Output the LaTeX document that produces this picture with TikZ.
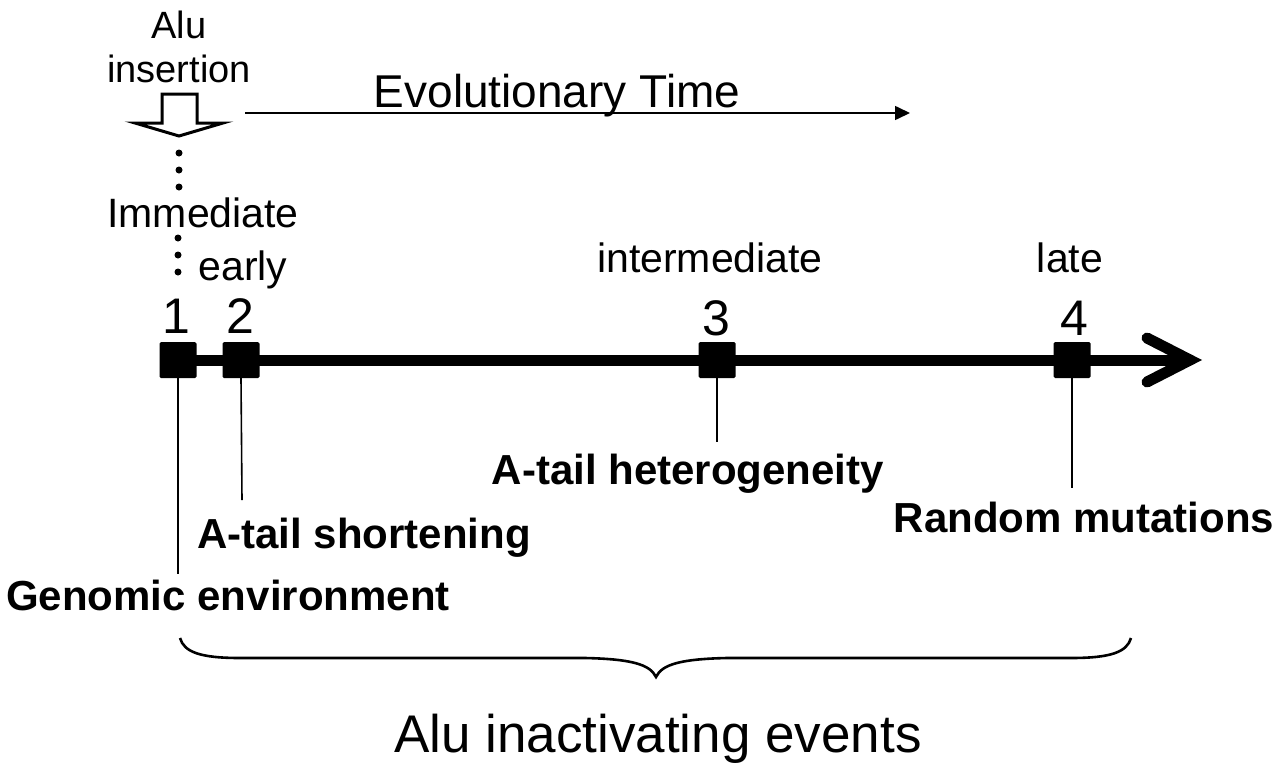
\documentclass[tikz,border=0pt]{standalone}
\usepackage{fontspec}
\setmainfont{Liberation Sans}
\usetikzlibrary{arrows.meta}
\newcommand{\fsz}[1]{\fontsize{#1}{#1}\selectfont}
\begin{document}
\begin{tikzpicture}[x=1pt,y=-1pt,
  lbl/.style={inner sep=0pt,anchor=base,font=\fsz{41}},
  num/.style={inner sep=0pt,anchor=base,font=\fsz{50}},
  evt/.style={inner sep=0pt,anchor=base,font=\fsz{42}\bfseries},
  marker/.style={fill=black,minimum width=37pt,minimum height=36pt,inner sep=0pt,rounded corners=1.5pt},
  drop/.style={line width=1.6pt},
  dots/.style={line width=7pt,line cap=round,dash pattern=on 0pt off 17pt}]
\useasboundingbox (0,0) rectangle (1280,782);
% top labels
\node[lbl,font=\fsz{38}] (alu) at (179,38) {Alu};
\node[lbl,font=\fsz{38}] (ins) at (179,82) {insertion};
% hollow insertion arrow
\draw[line width=3pt,fill=white,line join=miter] (162,94) -- (197,94) -- (197,123) -- (223,123) -- (179,136) -- (135,123) -- (162,123) -- cycle;
\coordinate (d1a) at (179,153); \coordinate (d1b) at (179,187);
\coordinate (d2a) at (178,238); \coordinate (d2b) at (178,272);
\draw[dots] (d1a) -- (d1b);
\node[lbl] (imm) at (203,227) {Immediate};
\draw[dots] (d2a) -- (d2b);
\node[lbl] (early) at (243,280) {early};
\node[lbl] (inter) at (710,272) {intermediate};
\node[lbl] (late) at (1070,272) {late};
% evolutionary time
\node[inner sep=0pt,anchor=base,font=\fsz{46}] (evo) at (557,107) {Evolutionary Time};
\coordinate (ta) at (245,113); \coordinate (tb) at (910,113);
\draw[line width=1.6pt,-{Triangle[length=15pt,width=14pt]}] (ta) -- (tb);
% axis
\coordinate (ax0) at (165,360);
\coordinate (ax1) at (1180,360);
\coordinate (tip) at (1190,360);
\coordinate (cu) at (1147,338); \coordinate (cd) at (1147,382);
\draw[line width=11pt] (ax0) -- (ax1);
\draw[line width=11pt,line cap=round,line join=miter] (cu) -- (tip) -- (cd);
% markers
\node[marker] (m1) at (178,360) {};
\node[marker] (m2) at (241,360) {};
\node[marker] (m3) at (717,360) {};
\node[marker] (m4) at (1072,360) {};
\node[num] (n1) at (176,333) {1};
\node[num] (n2) at (240,333) {2};
\node[num] (n3) at (716,335) {3};
\node[num] (n4) at (1074,335) {4};
% drop lines and events
\coordinate (e1) at (178,574);
\coordinate (e2) at (242,500);
\coordinate (e3) at (717,442);
\coordinate (e4) at (1072,488);
\draw[drop] (m1.south) -- (e1);
\draw[drop] (m2.south) -- (e2);
\draw[drop] (m3.south) -- (e3);
\draw[drop] (m4.south) -- (e4);
\node[evt] (g1) at (228,610) {Genomic environment};
\node[evt] (g2) at (364,548) {A-tail shortening};
\node[evt] (g3) at (688,484) {A-tail heterogeneity};
\node[evt] (g4) at (1084,532) {Random mutations};
% brace
\coordinate (bl) at (180,638); \coordinate (br) at (1131,638); \coordinate (bt) at (656,677);
\draw[line width=2.6pt] (bl) .. controls (184,652) and (200,658) .. (240,658)
  -- (585,658) .. controls (630,659) and (650,664) .. (bt)
  .. controls (662,664) and (682,659) .. (727,658)
  -- (1071,658) .. controls (1111,658) and (1127,652) .. (br);
\node[inner sep=0pt,anchor=base,font=\fsz{53}] (ev) at (658,752) {Alu inactivating events};
\end{tikzpicture}
\end{document}
